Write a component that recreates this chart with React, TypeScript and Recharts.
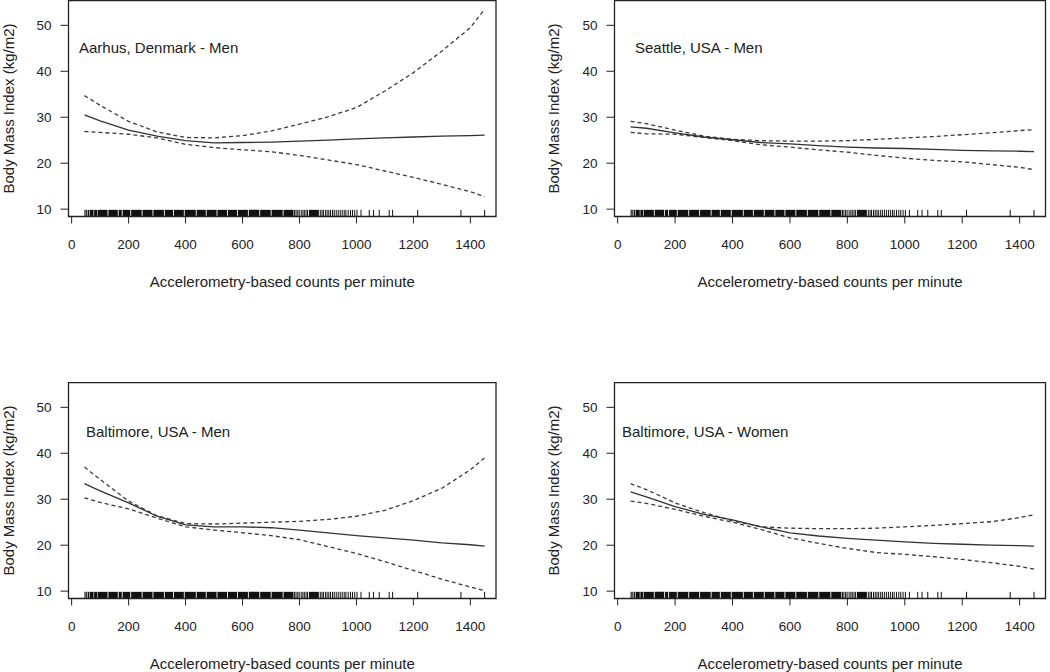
import React from 'react';
import { LineChart, Line, XAxis, YAxis, ReferenceArea, ReferenceLine } from 'recharts';

// counts per minute where the fitted curves were read
const counts = [45, 100, 200, 300, 400, 500, 600, 700, 800, 900, 1000, 1100, 1200, 1300, 1400, 1450];

const aarhusFit = [30.5, 29.2, 27.2, 25.9, 24.9, 24.4, 24.5, 24.6, 24.8, 25.0, 25.3, 25.5, 25.7, 25.9, 26.0, 26.1];
const aarhusUpper = [34.7, 32.6, 29.1, 26.8, 25.6, 25.5, 26.0, 27.0, 28.5, 30.1, 32.1, 35.7, 39.7, 44.4, 49.5, 53.5];
const aarhusLower = [26.9, 26.7, 26.3, 25.5, 24.1, 23.4, 22.9, 22.5, 21.7, 20.7, 19.7, 18.3, 16.9, 15.4, 13.8, 12.7];

const seattleFit = [27.9, 27.6, 26.6, 25.7, 25.1, 24.5, 24.2, 23.8, 23.5, 23.3, 23.2, 23.0, 22.8, 22.7, 22.6, 22.5];
const seattleUpper = [29.1, 28.6, 27.2, 25.9, 25.2, 24.9, 24.8, 24.8, 24.9, 25.2, 25.5, 25.8, 26.2, 26.6, 27.1, 27.3];
const seattleLower = [26.7, 26.4, 26.3, 25.6, 24.9, 24.0, 23.5, 22.9, 22.4, 21.7, 21.1, 20.6, 20.3, 19.7, 19.1, 18.6];

const baltMenFit = [33.4, 31.8, 29.2, 26.3, 24.4, 24.0, 24.0, 23.8, 23.3, 22.7, 22.1, 21.6, 21.1, 20.5, 20.1, 19.8];
const baltMenUpper = [37.0, 34.3, 29.6, 26.4, 24.7, 24.6, 24.8, 25.0, 25.2, 25.6, 26.3, 27.6, 29.7, 32.4, 36.4, 39.0];
const baltMenLower = [30.3, 29.3, 27.9, 25.9, 24.0, 23.3, 22.7, 22.1, 21.2, 19.7, 18.2, 16.4, 14.5, 12.6, 10.9, 10.1];

const baltWomenFit = [31.6, 30.5, 28.4, 26.7, 25.5, 24.0, 22.7, 22.0, 21.5, 21.1, 20.7, 20.4, 20.2, 20.0, 19.9, 19.8];
const baltWomenUpper = [33.4, 32.1, 29.2, 27.1, 25.3, 24.0, 23.7, 23.6, 23.6, 23.7, 24.0, 24.3, 24.7, 25.1, 26.0, 26.6];
const baltWomenLower = [29.6, 29.1, 27.8, 26.3, 25.0, 23.4, 21.6, 20.4, 19.3, 18.4, 18.0, 17.5, 16.9, 16.2, 15.4, 14.8];

const xTicks = [0, 200, 400, 600, 800, 1000, 1200, 1400];
const yTicks = [10, 20, 30, 40, 50];

// rug: dense stretches drawn as blocks, isolated observations as single ticks
const rugRuns: [number, number][] = [
  [45, 49], [51, 55], [57, 61], [63, 77], [79, 89], [91, 126], [129, 162], [165, 176],
  [179, 206], [209, 246], [249, 284], [287, 324], [327, 356], [359, 394], [397, 436],
  [439, 471], [474, 509], [512, 546], [549, 581], [584, 619], [622, 659], [662, 699],
  [702, 741], [744, 779], [833, 868],
];
const rugTicks = [
  783, 788, 794, 799, 806, 812, 817, 823, 828,
  873, 879, 884, 891, 897, 903, 909, 916, 922, 929, 936, 943, 950, 957, 963, 971, 979, 986, 994, 1002,
  1016, 1045, 1060, 1080, 1115, 1127, 1215, 1367, 1450,
];

const X_DOMAIN: [number, number] = [-11, 1490];
const Y_DOMAIN: [number, number] = [8.4, 55.4];
const RUG_TOP = 9.85;
const INK = '#222';
const FONT = 'Liberation Sans, Arial, sans-serif';

interface PanelProps {
  title: string;
  fit: number[];
  upper: number[];
  lower: number[];
  left: number;
  top: number;
  height: number;
  yAxisWidth: number;
  rightGap: number;
  xAxisHeight: number;
  xTitleOffset: number;
  yTitleOffset: number;
  titleX: number;
  titleY: number;
}

function Panel(p: PanelProps) {
  const data = counts.map((c, i) => ({ c, fit: p.fit[i], upper: p.upper[i], lower: p.lower[i] }));
  return (
    <>
      <div style={{ position: 'absolute', left: p.left, top: p.top }}>
        <LineChart
          width={525}
          height={p.height}
          data={data}
          margin={{ top: 0.5, right: p.rightGap, bottom: 0, left: 0 }}
        >
          <XAxis
            dataKey="c"
            type="number"
            domain={X_DOMAIN}
            ticks={xTicks}
            interval={0}
            allowDataOverflow
            axisLine={false}
            tickSize={7}
            tickMargin={16}
            height={p.xAxisHeight}
            tickLine={{ stroke: INK }}
            tick={{ fill: INK, fontSize: 13.5 }}
            label={{
              value: 'Accelerometry-based counts per minute',
              position: 'insideBottom',
              offset: p.xTitleOffset,
              style: { fill: INK, fontSize: 15 },
            }}
          />
          <YAxis
            type="number"
            domain={Y_DOMAIN}
            ticks={yTicks}
            interval={0}
            allowDataOverflow
            axisLine={false}
            width={p.yAxisWidth}
            tickSize={8}
            tickMargin={9}
            tickLine={{ stroke: INK }}
            tick={{ fill: INK, fontSize: 13.5 }}
            label={{
              value: 'Body Mass Index (kg/m2)',
              angle: -90,
              position: 'insideLeft',
              offset: p.yTitleOffset,
              style: { textAnchor: 'middle', fill: INK, fontSize: 15 },
            }}
          />
          {rugRuns.map(([a, b], i) => (
            <ReferenceArea key={'r' + i} x1={a} x2={b} y1={Y_DOMAIN[0]} y2={RUG_TOP} fill="#111" fillOpacity={1} stroke="none" />
          ))}
          {rugTicks.map((v, i) => (
            <ReferenceLine key={'t' + i} segment={[{ x: v, y: Y_DOMAIN[0] }, { x: v, y: RUG_TOP }]} stroke="#111" strokeWidth={1} />
          ))}
          <ReferenceArea x1={X_DOMAIN[0]} x2={X_DOMAIN[1]} y1={Y_DOMAIN[0]} y2={Y_DOMAIN[1]} fill="none" stroke={INK} strokeWidth={1.3} />
          <Line type="linear" dataKey="upper" stroke="#3a3a3a" strokeWidth={1.3} strokeDasharray="4 3" dot={false} isAnimationActive={false} />
          <Line type="linear" dataKey="lower" stroke="#3a3a3a" strokeWidth={1.3} strokeDasharray="4 3" dot={false} isAnimationActive={false} />
          <Line type="linear" dataKey="fit" stroke="#333" strokeWidth={1.3} dot={false} isAnimationActive={false} />
        </LineChart>
      </div>
      <div
        style={{
          position: 'absolute',
          left: p.titleX,
          top: p.titleY,
          fontSize: 15,
          lineHeight: '17px',
          color: INK,
          whiteSpace: 'nowrap',
        }}
      >
        {p.title}
      </div>
    </>
  );
}

export default function App() {
  const leftCol = { left: 0, yAxisWidth: 68.5, rightGap: 29, yTitleOffset: 9 };
  const rightCol = { left: 525, yAxisWidth: 89.5, rightGap: 4.5, yTitleOffset: 29 };
  const topRow = { top: 0, height: 300, xAxisHeight: 83.5, xTitleOffset: 13.5 };
  const bottomRow = { top: 382, height: 290, xAxisHeight: 73.5, xTitleOffset: 3.5 };

  return (
    <div
      style={{
        position: 'absolute',
        left: 0,
        top: 0,
        width: 1050,
        height: 672,
        background: '#fff',
        fontFamily: FONT,
        overflow: 'hidden',
      }}
    >
      <Panel title="Aarhus, Denmark - Men" fit={aarhusFit} upper={aarhusUpper} lower={aarhusLower}
        {...leftCol} {...topRow} titleX={79} titleY={38.8} />
      <Panel title="Seattle, USA - Men" fit={seattleFit} upper={seattleUpper} lower={seattleLower}
        {...rightCol} {...topRow} titleX={635} titleY={38.8} />
      <Panel title="Baltimore, USA - Men" fit={baltMenFit} upper={baltMenUpper} lower={baltMenLower}
        {...leftCol} {...bottomRow} titleX={86} titleY={422.8} />
      <Panel title="Baltimore, USA - Women" fit={baltWomenFit} upper={baltWomenUpper} lower={baltWomenLower}
        {...rightCol} {...bottomRow} titleX={622} titleY={422.8} />
    </div>
  );
}
